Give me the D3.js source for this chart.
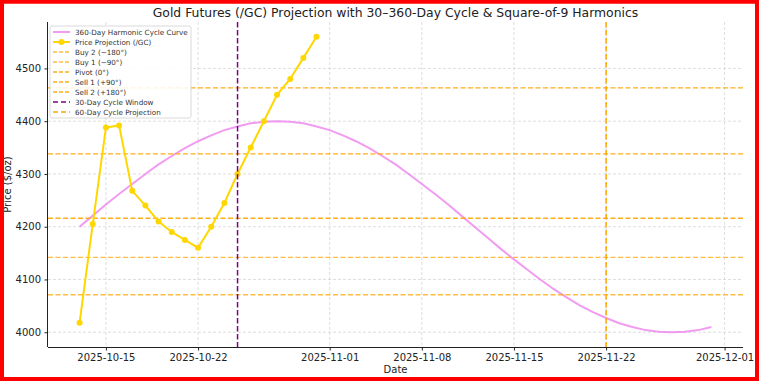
<!DOCTYPE html>
<html>
<head>
<meta charset="utf-8">
<script src="https://cdn.jsdelivr.net/npm/d3@7"></script>
<style>
  body { margin: 0; background: #fff; }
  svg { display: block; font-family: "DejaVu Sans", sans-serif; }
</style>
</head>
<body>
<div id="chart"></div>
<script>
// ---- data ----
var curveStart = "2025-10-13";
// 360-day harmonic cycle curve, one value per day
var curveValues = [4200, 4221, 4242, 4262, 4281, 4300, 4318, 4334, 4349, 4362,
  4373, 4383, 4390, 4396, 4399, 4400, 4399, 4396, 4390, 4383,
  4373, 4362, 4349, 4334, 4318, 4300, 4281, 4262, 4242, 4221,
  4200, 4179, 4158, 4138, 4119, 4100, 4082, 4066, 4051, 4038,
  4027, 4017, 4010, 4004, 4001, 4000, 4001, 4004, 4010];

var priceStart = "2025-10-13";
var priceValues = [4018, 4205, 4388, 4392, 4268, 4240, 4210, 4190, 4175, 4160,
  4200, 4245, 4300, 4350, 4400, 4450, 4480, 4520, 4560];

var levelNames = ["Buy 2 (\u2212180\u00b0)", "Buy 1 (\u221290\u00b0)", "Pivot (0\u00b0)", "Sell 1 (+90\u00b0)", "Sell 2 (+180\u00b0)"];
var levelValues = [4071, 4142, 4216, 4338, 4463];
var levelAlpha = [0.75, 0.75, 0.9, 0.9, 0.9];

var cycleWindowDate = "2025-10-25";
var cycleProjDate = "2025-11-22";

var yTicks = [4000, 4100, 4200, 4300, 4400, 4500];
var xTicks = ["2025-10-15", "2025-10-22", "2025-11-01", "2025-11-08", "2025-11-15", "2025-11-22", "2025-12-01"];

var titleText = "Gold Futures (/GC) Projection with 30\u2013360-Day Cycle & Square-of-9 Harmonics";

// ---- layout ----
var W = 759, H = 381;
var plot = { left: 48, right: 743, top: 22, bottom: 347 };

var parse = d3.utcParse("%Y-%m-%d");
var fmt = d3.utcFormat("%Y-%m-%d");

var curve = curveValues.map(function (v, i) {
  return { date: d3.utcDay.offset(parse(curveStart), i), value: v };
});
var price = priceValues.map(function (v, i) {
  return { date: d3.utcDay.offset(parse(priceStart), i), value: v };
});

var svg = d3.select("#chart").append("svg")
  .attr("width", W)
  .attr("height", H);

svg.append("rect").attr("width", W).attr("height", H).attr("fill", "#fff");

// scales with matplotlib-like 5% margins
var allDates = curve.concat(price).map(function (d) { return d.date; });
var xExt = d3.extent(allDates);
var xPad = (xExt[1] - xExt[0]) * 0.05;
var x = d3.scaleUtc()
  .domain([new Date(+xExt[0] - xPad), new Date(+xExt[1] + xPad)])
  .range([plot.left, plot.right]);

var allVals = curveValues.concat(priceValues);
var yExt = d3.extent(allVals);
var yPad = (yExt[1] - yExt[0]) * 0.05;
var y = d3.scaleLinear()
  .domain([yExt[0] - yPad, yExt[1] + yPad])
  .range([plot.bottom, plot.top]);

// grid
var grid = svg.append("g");
grid.selectAll("line.gx")
  .data(xTicks).enter()
  .append("line")
  .attr("x1", function (d) { return x(parse(d)); })
  .attr("x2", function (d) { return x(parse(d)); })
  .attr("y1", plot.top).attr("y2", plot.bottom)
  .style("stroke", "#d6d6d6").style("stroke-width", 0.8)
  .style("stroke-dasharray", "3,2");
grid.selectAll("line.gy")
  .data(yTicks).enter()
  .append("line")
  .attr("x1", plot.left).attr("x2", plot.right)
  .attr("y1", function (d) { return y(d); })
  .attr("y2", function (d) { return y(d); })
  .style("stroke", "#d6d6d6").style("stroke-width", 0.8)
  .style("stroke-dasharray", "3,2");

// harmonic curve
var line = d3.line()
  .x(function (d) { return x(d.date); })
  .y(function (d) { return y(d.value); });

svg.append("path")
  .datum(curve)
  .attr("d", line)
  .style("fill", "none")
  .style("stroke", "violet")
  .style("stroke-opacity", 0.8)
  .style("stroke-width", 2);

// square-of-9 levels
svg.selectAll("line.level")
  .data(levelValues).enter()
  .append("line")
  .attr("x1", plot.left).attr("x2", plot.right)
  .attr("y1", function (d) { return y(d); })
  .attr("y2", function (d) { return y(d); })
  .style("stroke", "orange")
  .style("stroke-opacity", function (d, i) { return levelAlpha[i]; })
  .style("stroke-width", 1.3)
  .style("stroke-dasharray", "5,2.5");

// price projection
svg.append("path")
  .datum(price)
  .attr("d", line)
  .style("fill", "none")
  .style("stroke", "gold")
  .style("stroke-width", 2);

svg.selectAll("circle.pt")
  .data(price).enter()
  .append("circle")
  .attr("cx", function (d) { return x(d.date); })
  .attr("cy", function (d) { return y(d.value); })
  .attr("r", 3)
  .style("fill", "gold");

// cycle verticals
svg.append("line")
  .attr("x1", x(parse(cycleWindowDate))).attr("x2", x(parse(cycleWindowDate)))
  .attr("y1", plot.top).attr("y2", plot.bottom)
  .style("stroke", "purple").style("stroke-width", 1.5)
  .style("stroke-dasharray", "5.5,2.5");
svg.append("line")
  .attr("x1", x(parse(cycleProjDate))).attr("x2", x(parse(cycleProjDate)))
  .attr("y1", plot.top).attr("y2", plot.bottom)
  .style("stroke", "orange").style("stroke-width", 1.5)
  .style("stroke-dasharray", "5.5,2.5");

// axes
var xAxis = d3.axisBottom(x)
  .tickValues(xTicks.map(parse))
  .tickFormat(fmt)
  .tickSize(3.5)
  .tickPadding(3.5);
var gx = svg.append("g")
  .attr("transform", "translate(0," + plot.bottom + ")")
  .call(xAxis);

var yAxis = d3.axisLeft(y)
  .tickValues(yTicks)
  .tickFormat(d3.format("d"))
  .tickSize(3.5)
  .tickPadding(3.5);
var gy = svg.append("g")
  .attr("transform", "translate(" + plot.left + ",0)")
  .call(yAxis);

[gx, gy].forEach(function (g) {
  g.select(".domain").style("stroke", "#222").style("stroke-width", 1);
  g.selectAll(".tick line").style("stroke", "#222");
  g.selectAll(".tick text")
    .style("font-size", "10px")
    .style("fill", "#222")
    .style("font-family", "DejaVu Sans");
});
gx.select(".domain").attr("d", "M" + plot.left + ",0.5H" + plot.right);
gy.select(".domain").attr("d", "M-0.5," + plot.top + "V" + plot.bottom);

// titles
svg.append("text")
  .attr("x", (plot.left + plot.right) / 2)
  .attr("y", 17)
  .attr("text-anchor", "middle")
  .style("font-size", "12.4px")
  .style("fill", "#222")
  .text(titleText);

svg.append("text")
  .attr("x", (plot.left + plot.right) / 2)
  .attr("y", 373)
  .attr("text-anchor", "middle")
  .style("font-size", "10px")
  .style("fill", "#222")
  .text("Date");

svg.append("text")
  .attr("transform", "translate(11," + ((plot.top + plot.bottom) / 2) + ") rotate(-90)")
  .attr("text-anchor", "middle")
  .style("font-size", "10px")
  .style("fill", "#222")
  .text("Price ($/oz)");

// legend
var legendItems = [
  { name: "360-Day Harmonic Cycle Curve", color: "violet", dash: null, width: 2, marker: false, alpha: 0.8 },
  { name: "Price Projection (/GC)", color: "gold", dash: null, width: 2, marker: true, alpha: 1 }
];
levelNames.forEach(function (n, i) {
  legendItems.push({ name: n, color: "orange", dash: "4,2", width: 1.3, marker: false, alpha: levelAlpha[i] });
});
legendItems.push({ name: "30-Day Cycle Window", color: "purple", dash: "5,3", width: 1.5, marker: false, alpha: 1 });
legendItems.push({ name: "60-Day Cycle Projection", color: "orange", dash: "5,3", width: 1.5, marker: false, alpha: 1 });

var legend = svg.append("g").attr("transform", "translate(50,26)");
legend.append("rect")
  .attr("width", 141).attr("height", 92)
  .attr("rx", 2)
  .style("fill", "#fff").style("fill-opacity", 0.85)
  .style("stroke", "#d0d0d0").style("stroke-width", 0.8);

var rows = legend.selectAll("g.row")
  .data(legendItems).enter()
  .append("g")
  .attr("transform", function (d, i) { return "translate(0," + (6 + i * 10) + ")"; });

rows.append("line")
  .attr("x1", 3).attr("x2", 20)
  .attr("y1", 0).attr("y2", 0)
  .style("stroke", function (d) { return d.color; })
  .style("stroke-opacity", function (d) { return d.alpha; })
  .style("stroke-width", function (d) { return d.width; })
  .style("stroke-dasharray", function (d) { return d.dash; });

rows.filter(function (d) { return d.marker; })
  .append("circle")
  .attr("cx", 11.5).attr("cy", 0).attr("r", 3)
  .style("fill", function (d) { return d.color; });

rows.append("text")
  .attr("x", 25)
  .attr("y", 0)
  .attr("dy", "0.35em")
  .style("font-size", "7.2px")
  .style("fill", "#333")
  .text(function (d) { return d.name; });

// red frame
svg.append("rect")
  .attr("x", 2).attr("y", 1.75)
  .attr("width", W - 4).attr("height", H - 3.75)
  .style("fill", "none")
  .style("stroke", "#f00")
  .style("stroke-width", 4);
</script>
</body>
</html>
